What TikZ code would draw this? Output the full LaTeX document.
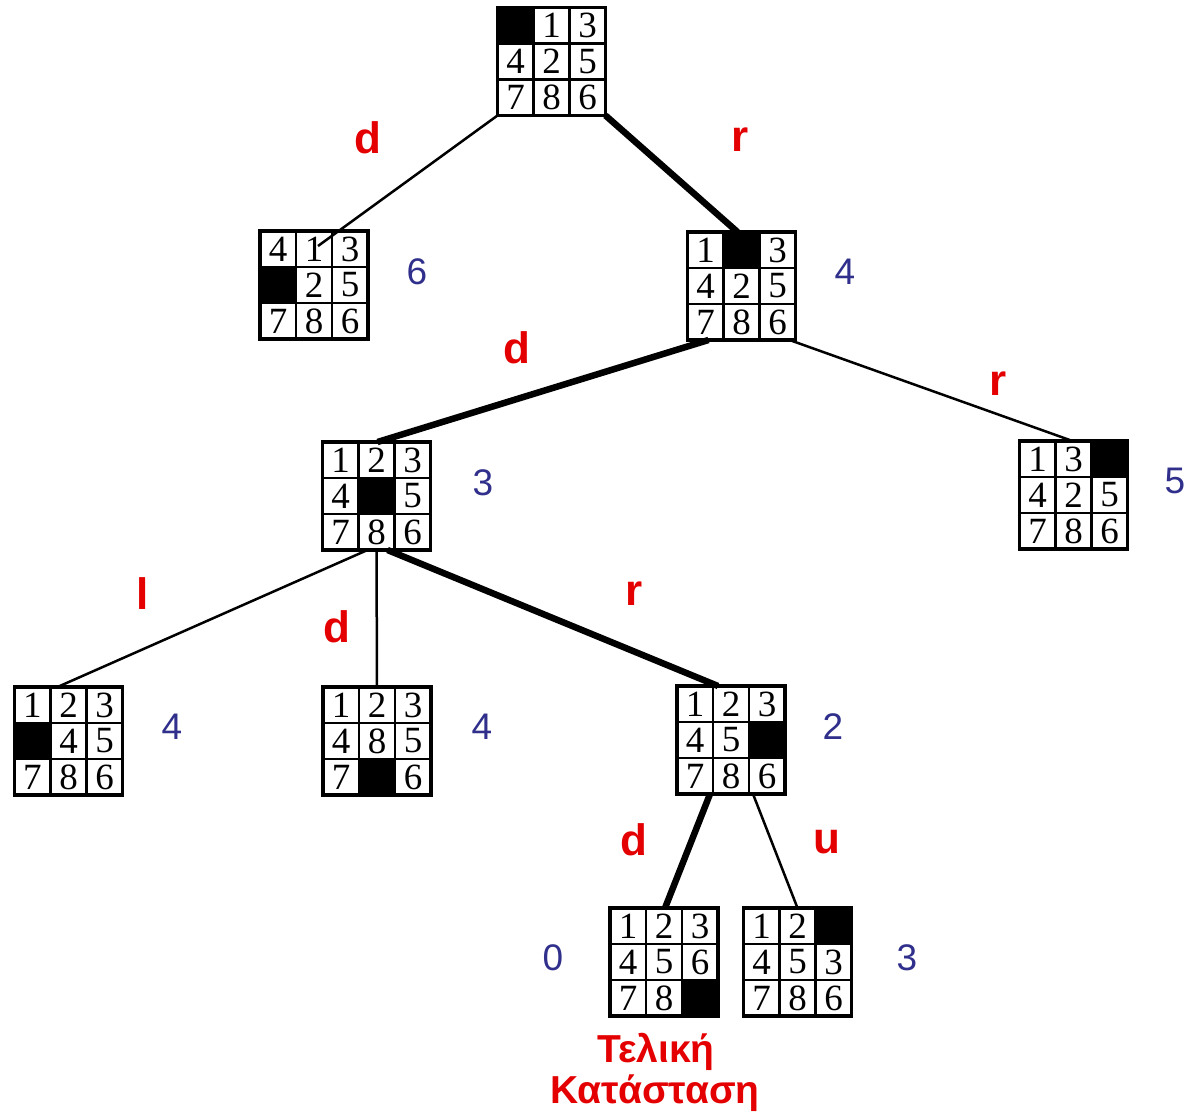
\documentclass[tikz,border=0pt]{standalone}
\usepackage{fontspec}
\setmainfont{Liberation Serif}
\setsansfont{Liberation Sans}
\definecolor{movered}{RGB}{228,0,0}
\definecolor{costblue}{RGB}{48,48,140}

% A 3x3 sliding-tile board: name, centre, nine entries row by row (0 = blank)
\newcommand\puzzle[3]{%
  \node[boardbox] (#1) at (#2) {};
  \foreach \v [count=\k from 0] in {#3} {
    \pgfmathtruncatemacro\col{mod(\k,3)}
    \pgfmathtruncatemacro\row{div(\k,3)}
    \coordinate (#1-c\k) at ([shift={({(\col-1)*36},{(\row-1)*36})}]#1.center);
    \ifnum\v=0
      \fill ([shift={(-18,-18)}]#1-c\k) rectangle ([shift={(18,18)}]#1-c\k);
    \else
      \node[tile] (#1-t\k) at (#1-c\k) {\v};
    \fi
  }
  \draw[line width=2.6pt]
    ([shift={(-18,-54)}]#1.center) -- ([shift={(-18,54)}]#1.center)
    ([shift={(18,-54)}]#1.center) -- ([shift={(18,54)}]#1.center)
    ([shift={(-54,-18)}]#1.center) -- ([shift={(54,-18)}]#1.center)
    ([shift={(-54,18)}]#1.center) -- ([shift={(54,18)}]#1.center);
  \draw[line width=3.4pt] (#1.north west) rectangle (#1.south east);
}

\begin{document}
\begin{tikzpicture}[x=1pt,y=-1pt,
  boardbox/.style={minimum size=108pt, inner sep=0pt, outer sep=0pt},
  tile/.style={font=\fontsize{37}{37}\selectfont, inner sep=0pt},
  move/.style={text=movered, font=\sffamily\bfseries\fontsize{44}{44}\selectfont, inner sep=0pt},
  cost/.style={text=costblue, font=\sffamily\fontsize{37}{37}\selectfont, inner sep=0pt},
  goal/.style={text=movered, font=\sffamily\bfseries\fontsize{39}{39}\selectfont, inner sep=0pt},
  thinedge/.style={line width=2.5pt},
  thickedge/.style={line width=6.5pt},
]
\fill[white] (0,0) rectangle (1185,1115);
\useasboundingbox (0,0) rectangle (1185,1115);

% boards
\puzzle{root}{551.5,61.5}{0,1,3,4,2,5,7,8,6}
\puzzle{a}{314,285}{4,1,3,0,2,5,7,8,6}
\puzzle{b}{741.5,286}{1,0,3,4,2,5,7,8,6}
\puzzle{ba}{376.5,496}{1,2,3,4,0,5,7,8,6}
\puzzle{bb}{1073.5,495}{1,3,0,4,2,5,7,8,6}
\puzzle{baa}{68.5,741}{1,2,3,0,4,5,7,8,6}
\puzzle{bab}{377,741}{1,2,3,4,8,5,7,0,6}
\puzzle{bac}{731,740}{1,2,3,4,5,0,7,8,6}
\puzzle{baca}{664,962}{1,2,3,4,5,6,7,8,0}
\puzzle{bacb}{797.5,962}{1,2,0,4,5,3,7,8,6}

% connectors
\draw[thinedge] (root.south west) -- ([shift={(4,15)}]a.north);
\draw[thickedge] (root.south east) -- ([xshift=-4]b.north);
\draw[thickedge] ([xshift=-33]b.south) -- ([xshift=1]ba.north);
\draw[thinedge] ([xshift=-6]b.south east) -- ([xshift=-1]bb.north);
\draw[thinedge] ([xshift=-9]ba.south) -- ([xshift=-11]baa.north);
\draw[thinedge] (ba.south) -- (bab.north);
\draw[thickedge] ([xshift=11]ba.south) -- ([xshift=-13]bac.north);
\draw[thickedge] ([xshift=-21]bac.south) -- ([xshift=1]baca.north);
\draw[thinedge] ([xshift=22]bac.south) -- (bacb.north);

% move labels
\node[move] (m1) at (368,138) {d};
\node[move] (m2) at (740,140) {r};
\node[move] (m3) at (517,348) {d};
\node[move] (m4) at (998,384) {r};
\node[move] (m5) at (143,594) {l};
\node[move] (m6) at (337,627) {d};
\node[move] (m7) at (634,594) {r};
\node[move] (m8) at (634,840) {d};
\node[move] (m9) at (827,842) {u};

% heuristic values
\node[cost] (h1) at (417,272) {6};
\node[cost] (h2) at (845,272) {4};
\node[cost] (h3) at (483,483) {3};
\node[cost] (h4) at (1175,481) {5};
\node[cost] (h5) at (172,727) {4};
\node[cost] (h6) at (482,727) {4};
\node[cost] (h7) at (833,727) {2};
\node[cost] (h8) at (553,958) {0};
\node[cost] (h9) at (907,958) {3};

% goal caption
\node[goal] (g1) at (656,1052) {Τελική};
\node[goal] (g2) at (655,1093) {Κατάσταση};
\end{tikzpicture}
\end{document}
